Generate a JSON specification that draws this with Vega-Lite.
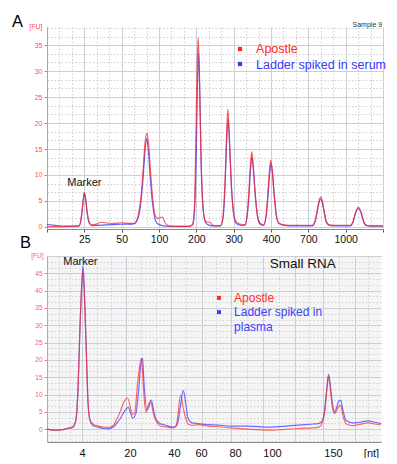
{
  "$schema": "https://vega.github.io/schema/vega-lite/v6.json",
  "padding": {"left": 11, "top": 14, "right": 0, "bottom": 0},
  "spacing": 27,
  "bounds": "flush",
  "config": {
    "view": {"stroke": null},
    "axis": {"labelFont": "Liberation Sans", "titleFont": "Liberation Sans"},
    "text": {"font": "Liberation Sans"}
  },
  "resolve": {"scale": {"color": "independent"}},
  "datasets": {
    "serumLadder": [
      {"series": "Ladder spiked in serum", "pos": 0, "fu": 0.5},
      {"series": "Ladder spiked in serum", "pos": 0.15, "fu": 0.35},
      {"series": "Ladder spiked in serum", "pos": 0.3, "fu": 0.2},
      {"series": "Ladder spiked in serum", "pos": 0.5, "fu": 0.15},
      {"series": "Ladder spiked in serum", "pos": 0.7, "fu": 0.15},
      {"series": "Ladder spiked in serum", "pos": 0.86, "fu": 0.2},
      {"series": "Ladder spiked in serum", "pos": 0.92, "fu": 1.8},
      {"series": "Ladder spiked in serum", "pos": 0.97, "fu": 5.0},
      {"series": "Ladder spiked in serum", "pos": 1.0, "fu": 6.5},
      {"series": "Ladder spiked in serum", "pos": 1.03, "fu": 5.6},
      {"series": "Ladder spiked in serum", "pos": 1.08, "fu": 2.5},
      {"series": "Ladder spiked in serum", "pos": 1.14, "fu": 0.6},
      {"series": "Ladder spiked in serum", "pos": 1.2, "fu": 0.25},
      {"series": "Ladder spiked in serum", "pos": 1.35, "fu": 0.3},
      {"series": "Ladder spiked in serum", "pos": 1.6, "fu": 0.4},
      {"series": "Ladder spiked in serum", "pos": 1.9, "fu": 0.5},
      {"series": "Ladder spiked in serum", "pos": 2.1, "fu": 0.55},
      {"series": "Ladder spiked in serum", "pos": 2.25, "fu": 0.5},
      {"series": "Ladder spiked in serum", "pos": 2.35, "fu": 0.7},
      {"series": "Ladder spiked in serum", "pos": 2.45, "fu": 2.0},
      {"series": "Ladder spiked in serum", "pos": 2.52, "fu": 5.0},
      {"series": "Ladder spiked in serum", "pos": 2.58, "fu": 10},
      {"series": "Ladder spiked in serum", "pos": 2.63, "fu": 15},
      {"series": "Ladder spiked in serum", "pos": 2.67, "fu": 17},
      {"series": "Ladder spiked in serum", "pos": 2.71, "fu": 15.2},
      {"series": "Ladder spiked in serum", "pos": 2.76, "fu": 10},
      {"series": "Ladder spiked in serum", "pos": 2.82, "fu": 5},
      {"series": "Ladder spiked in serum", "pos": 2.88, "fu": 2},
      {"series": "Ladder spiked in serum", "pos": 2.95, "fu": 0.7},
      {"series": "Ladder spiked in serum", "pos": 3.05, "fu": 0.35},
      {"series": "Ladder spiked in serum", "pos": 3.2, "fu": 0.15},
      {"series": "Ladder spiked in serum", "pos": 3.5, "fu": 0.1},
      {"series": "Ladder spiked in serum", "pos": 3.8, "fu": 0.1},
      {"series": "Ladder spiked in serum", "pos": 3.9, "fu": 0.4},
      {"series": "Ladder spiked in serum", "pos": 3.95, "fu": 3},
      {"series": "Ladder spiked in serum", "pos": 4.0, "fu": 15},
      {"series": "Ladder spiked in serum", "pos": 4.03, "fu": 27},
      {"series": "Ladder spiked in serum", "pos": 4.06, "fu": 33.5},
      {"series": "Ladder spiked in serum", "pos": 4.09, "fu": 27},
      {"series": "Ladder spiked in serum", "pos": 4.13, "fu": 12},
      {"series": "Ladder spiked in serum", "pos": 4.18, "fu": 3.5},
      {"series": "Ladder spiked in serum", "pos": 4.25, "fu": 0.8},
      {"series": "Ladder spiked in serum", "pos": 4.35, "fu": 0.3},
      {"series": "Ladder spiked in serum", "pos": 4.5, "fu": 0.2},
      {"series": "Ladder spiked in serum", "pos": 4.65, "fu": 0.2},
      {"series": "Ladder spiked in serum", "pos": 4.72, "fu": 2},
      {"series": "Ladder spiked in serum", "pos": 4.77, "fu": 8},
      {"series": "Ladder spiked in serum", "pos": 4.81, "fu": 16},
      {"series": "Ladder spiked in serum", "pos": 4.85, "fu": 20.8},
      {"series": "Ladder spiked in serum", "pos": 4.89, "fu": 16},
      {"series": "Ladder spiked in serum", "pos": 4.94, "fu": 8},
      {"series": "Ladder spiked in serum", "pos": 5.0, "fu": 2.5},
      {"series": "Ladder spiked in serum", "pos": 5.06, "fu": 0.8},
      {"series": "Ladder spiked in serum", "pos": 5.15, "fu": 0.4},
      {"series": "Ladder spiked in serum", "pos": 5.3, "fu": 0.3},
      {"series": "Ladder spiked in serum", "pos": 5.36, "fu": 2},
      {"series": "Ladder spiked in serum", "pos": 5.41, "fu": 6},
      {"series": "Ladder spiked in serum", "pos": 5.45, "fu": 11},
      {"series": "Ladder spiked in serum", "pos": 5.49, "fu": 13.5},
      {"series": "Ladder spiked in serum", "pos": 5.53, "fu": 11},
      {"series": "Ladder spiked in serum", "pos": 5.58, "fu": 6},
      {"series": "Ladder spiked in serum", "pos": 5.64, "fu": 2},
      {"series": "Ladder spiked in serum", "pos": 5.7, "fu": 0.6},
      {"series": "Ladder spiked in serum", "pos": 5.8, "fu": 0.3},
      {"series": "Ladder spiked in serum", "pos": 5.87, "fu": 2},
      {"series": "Ladder spiked in serum", "pos": 5.92, "fu": 6},
      {"series": "Ladder spiked in serum", "pos": 5.96, "fu": 10},
      {"series": "Ladder spiked in serum", "pos": 6.0, "fu": 12.2},
      {"series": "Ladder spiked in serum", "pos": 6.04, "fu": 10.5},
      {"series": "Ladder spiked in serum", "pos": 6.09, "fu": 6},
      {"series": "Ladder spiked in serum", "pos": 6.15, "fu": 2},
      {"series": "Ladder spiked in serum", "pos": 6.22, "fu": 0.6},
      {"series": "Ladder spiked in serum", "pos": 6.35, "fu": 0.3},
      {"series": "Ladder spiked in serum", "pos": 6.6, "fu": 0.2},
      {"series": "Ladder spiked in serum", "pos": 6.9, "fu": 0.2},
      {"series": "Ladder spiked in serum", "pos": 7.1, "fu": 0.2},
      {"series": "Ladder spiked in serum", "pos": 7.18, "fu": 1},
      {"series": "Ladder spiked in serum", "pos": 7.24, "fu": 3},
      {"series": "Ladder spiked in serum", "pos": 7.29, "fu": 4.8},
      {"series": "Ladder spiked in serum", "pos": 7.33, "fu": 5.4},
      {"series": "Ladder spiked in serum", "pos": 7.37, "fu": 4.8},
      {"series": "Ladder spiked in serum", "pos": 7.42, "fu": 3},
      {"series": "Ladder spiked in serum", "pos": 7.48, "fu": 1},
      {"series": "Ladder spiked in serum", "pos": 7.56, "fu": 0.3},
      {"series": "Ladder spiked in serum", "pos": 7.8, "fu": 0.2},
      {"series": "Ladder spiked in serum", "pos": 8.0, "fu": 0.2},
      {"series": "Ladder spiked in serum", "pos": 8.12, "fu": 0.2},
      {"series": "Ladder spiked in serum", "pos": 8.2, "fu": 1},
      {"series": "Ladder spiked in serum", "pos": 8.26, "fu": 2.5},
      {"series": "Ladder spiked in serum", "pos": 8.34, "fu": 3.6},
      {"series": "Ladder spiked in serum", "pos": 8.42, "fu": 2.5},
      {"series": "Ladder spiked in serum", "pos": 8.48, "fu": 1},
      {"series": "Ladder spiked in serum", "pos": 8.56, "fu": 0.25},
      {"series": "Ladder spiked in serum", "pos": 8.75, "fu": 0.15},
      {"series": "Ladder spiked in serum", "pos": 9.0, "fu": 0.15}
    ],
    "serumApostle": [
      {"series": "Apostle", "pos": 0, "fu": 0.05},
      {"series": "Apostle", "pos": 0.3, "fu": 0.05},
      {"series": "Apostle", "pos": 0.6, "fu": 0.1},
      {"series": "Apostle", "pos": 0.86, "fu": 0.2},
      {"series": "Apostle", "pos": 0.92, "fu": 1.9},
      {"series": "Apostle", "pos": 0.97, "fu": 5.2},
      {"series": "Apostle", "pos": 1.0, "fu": 6.6},
      {"series": "Apostle", "pos": 1.03, "fu": 5.7},
      {"series": "Apostle", "pos": 1.08, "fu": 2.6},
      {"series": "Apostle", "pos": 1.14, "fu": 0.8},
      {"series": "Apostle", "pos": 1.2, "fu": 0.4},
      {"series": "Apostle", "pos": 1.35, "fu": 0.6},
      {"series": "Apostle", "pos": 1.45, "fu": 0.9},
      {"series": "Apostle", "pos": 1.55, "fu": 0.8},
      {"series": "Apostle", "pos": 1.8, "fu": 0.7},
      {"series": "Apostle", "pos": 2.0, "fu": 0.8},
      {"series": "Apostle", "pos": 2.2, "fu": 0.7},
      {"series": "Apostle", "pos": 2.35, "fu": 0.7},
      {"series": "Apostle", "pos": 2.45, "fu": 2.5},
      {"series": "Apostle", "pos": 2.52, "fu": 6},
      {"series": "Apostle", "pos": 2.58, "fu": 11.5},
      {"series": "Apostle", "pos": 2.63, "fu": 16.5},
      {"series": "Apostle", "pos": 2.68, "fu": 18},
      {"series": "Apostle", "pos": 2.72, "fu": 16},
      {"series": "Apostle", "pos": 2.77, "fu": 11},
      {"series": "Apostle", "pos": 2.83, "fu": 5.5},
      {"series": "Apostle", "pos": 2.9, "fu": 2.2},
      {"series": "Apostle", "pos": 2.96, "fu": 1.6},
      {"series": "Apostle", "pos": 3.03, "fu": 1.8},
      {"series": "Apostle", "pos": 3.09, "fu": 1.9},
      {"series": "Apostle", "pos": 3.15, "fu": 1.0},
      {"series": "Apostle", "pos": 3.25, "fu": 0.2},
      {"series": "Apostle", "pos": 3.5, "fu": 0.1},
      {"series": "Apostle", "pos": 3.8, "fu": 0.1},
      {"series": "Apostle", "pos": 3.9, "fu": 0.5},
      {"series": "Apostle", "pos": 3.95, "fu": 4},
      {"series": "Apostle", "pos": 3.99, "fu": 18},
      {"series": "Apostle", "pos": 4.02, "fu": 30},
      {"series": "Apostle", "pos": 4.05, "fu": 36.5},
      {"series": "Apostle", "pos": 4.08, "fu": 30},
      {"series": "Apostle", "pos": 4.12, "fu": 15},
      {"series": "Apostle", "pos": 4.17, "fu": 5},
      {"series": "Apostle", "pos": 4.23, "fu": 1.3},
      {"series": "Apostle", "pos": 4.3, "fu": 0.9},
      {"series": "Apostle", "pos": 4.36, "fu": 0.9},
      {"series": "Apostle", "pos": 4.45, "fu": 0.3},
      {"series": "Apostle", "pos": 4.6, "fu": 0.2},
      {"series": "Apostle", "pos": 4.67, "fu": 0.4},
      {"series": "Apostle", "pos": 4.72, "fu": 2.5},
      {"series": "Apostle", "pos": 4.77, "fu": 9},
      {"series": "Apostle", "pos": 4.81, "fu": 18},
      {"series": "Apostle", "pos": 4.845, "fu": 22.7},
      {"series": "Apostle", "pos": 4.88, "fu": 18},
      {"series": "Apostle", "pos": 4.93, "fu": 9},
      {"series": "Apostle", "pos": 4.99, "fu": 3},
      {"series": "Apostle", "pos": 5.05, "fu": 1.2},
      {"series": "Apostle", "pos": 5.15, "fu": 0.6},
      {"series": "Apostle", "pos": 5.3, "fu": 0.4},
      {"series": "Apostle", "pos": 5.36, "fu": 2.3},
      {"series": "Apostle", "pos": 5.41, "fu": 7},
      {"series": "Apostle", "pos": 5.45, "fu": 12},
      {"series": "Apostle", "pos": 5.485, "fu": 14.5},
      {"series": "Apostle", "pos": 5.52, "fu": 12},
      {"series": "Apostle", "pos": 5.57, "fu": 7},
      {"series": "Apostle", "pos": 5.63, "fu": 2.5},
      {"series": "Apostle", "pos": 5.7, "fu": 0.8},
      {"series": "Apostle", "pos": 5.8, "fu": 0.4},
      {"series": "Apostle", "pos": 5.87, "fu": 2.3},
      {"series": "Apostle", "pos": 5.92, "fu": 7},
      {"series": "Apostle", "pos": 5.96, "fu": 11},
      {"series": "Apostle", "pos": 5.995, "fu": 12.8},
      {"series": "Apostle", "pos": 6.03, "fu": 11},
      {"series": "Apostle", "pos": 6.08, "fu": 6.5},
      {"series": "Apostle", "pos": 6.14, "fu": 2.2},
      {"series": "Apostle", "pos": 6.22, "fu": 0.7},
      {"series": "Apostle", "pos": 6.35, "fu": 0.4},
      {"series": "Apostle", "pos": 6.6, "fu": 0.3},
      {"series": "Apostle", "pos": 6.9, "fu": 0.3},
      {"series": "Apostle", "pos": 7.1, "fu": 0.3},
      {"series": "Apostle", "pos": 7.18, "fu": 1.1},
      {"series": "Apostle", "pos": 7.24, "fu": 3.3},
      {"series": "Apostle", "pos": 7.29, "fu": 5.2},
      {"series": "Apostle", "pos": 7.33, "fu": 5.8},
      {"series": "Apostle", "pos": 7.37, "fu": 5.2},
      {"series": "Apostle", "pos": 7.42, "fu": 3.2},
      {"series": "Apostle", "pos": 7.48, "fu": 1.1},
      {"series": "Apostle", "pos": 7.56, "fu": 0.4},
      {"series": "Apostle", "pos": 7.8, "fu": 0.3},
      {"series": "Apostle", "pos": 8.0, "fu": 0.3},
      {"series": "Apostle", "pos": 8.12, "fu": 0.3},
      {"series": "Apostle", "pos": 8.2, "fu": 1.1},
      {"series": "Apostle", "pos": 8.26, "fu": 2.7},
      {"series": "Apostle", "pos": 8.34, "fu": 3.8},
      {"series": "Apostle", "pos": 8.42, "fu": 2.7},
      {"series": "Apostle", "pos": 8.48, "fu": 1.1},
      {"series": "Apostle", "pos": 8.56, "fu": 0.3},
      {"series": "Apostle", "pos": 8.75, "fu": 0.2},
      {"series": "Apostle", "pos": 9.0, "fu": 0.2}
    ],
    "plasmaLadder": [
      {"series": "Ladder spiked in plasma", "pos": 0, "fu": 0.1},
      {"series": "Ladder spiked in plasma", "pos": 1.8, "fu": -0.3},
      {"series": "Ladder spiked in plasma", "pos": 3.9, "fu": -0.2},
      {"series": "Ladder spiked in plasma", "pos": 6.3, "fu": 0.3},
      {"series": "Ladder spiked in plasma", "pos": 7.8, "fu": 0.7},
      {"series": "Ladder spiked in plasma", "pos": 8.7, "fu": 3},
      {"series": "Ladder spiked in plasma", "pos": 9.3, "fu": 12},
      {"series": "Ladder spiked in plasma", "pos": 9.9, "fu": 30},
      {"series": "Ladder spiked in plasma", "pos": 10.5, "fu": 43},
      {"series": "Ladder spiked in plasma", "pos": 10.8, "fu": 47},
      {"series": "Ladder spiked in plasma", "pos": 11.1, "fu": 42},
      {"series": "Ladder spiked in plasma", "pos": 11.7, "fu": 25},
      {"series": "Ladder spiked in plasma", "pos": 12.3, "fu": 8},
      {"series": "Ladder spiked in plasma", "pos": 12.9, "fu": 2.5},
      {"series": "Ladder spiked in plasma", "pos": 13.8, "fu": 1.0},
      {"series": "Ladder spiked in plasma", "pos": 15.3, "fu": 0.6},
      {"series": "Ladder spiked in plasma", "pos": 16.8, "fu": 0.2},
      {"series": "Ladder spiked in plasma", "pos": 18.3, "fu": 0.1},
      {"series": "Ladder spiked in plasma", "pos": 19.8, "fu": 0.6},
      {"series": "Ladder spiked in plasma", "pos": 20.7, "fu": 1.5},
      {"series": "Ladder spiked in plasma", "pos": 21.9, "fu": 3},
      {"series": "Ladder spiked in plasma", "pos": 23.1, "fu": 5},
      {"series": "Ladder spiked in plasma", "pos": 24.3, "fu": 6.3},
      {"series": "Ladder spiked in plasma", "pos": 25.7, "fu": 3.2},
      {"series": "Ladder spiked in plasma", "pos": 26.6, "fu": 4.5},
      {"series": "Ladder spiked in plasma", "pos": 27.5, "fu": 12},
      {"series": "Ladder spiked in plasma", "pos": 28.0, "fu": 18},
      {"series": "Ladder spiked in plasma", "pos": 28.6, "fu": 20.5},
      {"series": "Ladder spiked in plasma", "pos": 29.0, "fu": 14},
      {"series": "Ladder spiked in plasma", "pos": 29.9, "fu": 5.5},
      {"series": "Ladder spiked in plasma", "pos": 30.5, "fu": 6.5},
      {"series": "Ladder spiked in plasma", "pos": 31.2, "fu": 8.4},
      {"series": "Ladder spiked in plasma", "pos": 32.0, "fu": 5},
      {"series": "Ladder spiked in plasma", "pos": 32.6, "fu": 3},
      {"series": "Ladder spiked in plasma", "pos": 33.8, "fu": 1.6},
      {"series": "Ladder spiked in plasma", "pos": 35.3, "fu": 1.2},
      {"series": "Ladder spiked in plasma", "pos": 37.7, "fu": 0.6},
      {"series": "Ladder spiked in plasma", "pos": 38.6, "fu": 0.9},
      {"series": "Ladder spiked in plasma", "pos": 39.2, "fu": 2},
      {"series": "Ladder spiked in plasma", "pos": 40.0, "fu": 7},
      {"series": "Ladder spiked in plasma", "pos": 40.8, "fu": 11.2},
      {"series": "Ladder spiked in plasma", "pos": 41.6, "fu": 7},
      {"series": "Ladder spiked in plasma", "pos": 42.2, "fu": 3.2},
      {"series": "Ladder spiked in plasma", "pos": 43.4, "fu": 1.8},
      {"series": "Ladder spiked in plasma", "pos": 45.2, "fu": 1.6},
      {"series": "Ladder spiked in plasma", "pos": 48.2, "fu": 1.3},
      {"series": "Ladder spiked in plasma", "pos": 51.2, "fu": 1.2},
      {"series": "Ladder spiked in plasma", "pos": 55.1, "fu": 0.9},
      {"series": "Ladder spiked in plasma", "pos": 60.2, "fu": 0.9},
      {"series": "Ladder spiked in plasma", "pos": 66.2, "fu": 0.6},
      {"series": "Ladder spiked in plasma", "pos": 70.7, "fu": 0.8},
      {"series": "Ladder spiked in plasma", "pos": 75.1, "fu": 1.2},
      {"series": "Ladder spiked in plasma", "pos": 79.6, "fu": 1.5},
      {"series": "Ladder spiked in plasma", "pos": 81.1, "fu": 1.6},
      {"series": "Ladder spiked in plasma", "pos": 82.0, "fu": 2.0},
      {"series": "Ladder spiked in plasma", "pos": 82.6, "fu": 2.8},
      {"series": "Ladder spiked in plasma", "pos": 83.2, "fu": 6},
      {"series": "Ladder spiked in plasma", "pos": 83.8, "fu": 12},
      {"series": "Ladder spiked in plasma", "pos": 84.3, "fu": 15.8},
      {"series": "Ladder spiked in plasma", "pos": 84.9, "fu": 12},
      {"series": "Ladder spiked in plasma", "pos": 85.5, "fu": 7},
      {"series": "Ladder spiked in plasma", "pos": 86.1, "fu": 5.0},
      {"series": "Ladder spiked in plasma", "pos": 86.8, "fu": 6.5},
      {"series": "Ladder spiked in plasma", "pos": 87.3, "fu": 8.0},
      {"series": "Ladder spiked in plasma", "pos": 87.9, "fu": 8.4},
      {"series": "Ladder spiked in plasma", "pos": 88.6, "fu": 5.5},
      {"series": "Ladder spiked in plasma", "pos": 89.5, "fu": 2.6},
      {"series": "Ladder spiked in plasma", "pos": 91.6, "fu": 1.8},
      {"series": "Ladder spiked in plasma", "pos": 93.7, "fu": 2.0},
      {"series": "Ladder spiked in plasma", "pos": 96.1, "fu": 2.4},
      {"series": "Ladder spiked in plasma", "pos": 98.2, "fu": 2.0},
      {"series": "Ladder spiked in plasma", "pos": 100, "fu": 1.6}
    ],
    "plasmaApostle": [
      {"series": "Apostle", "pos": 0, "fu": 0.0},
      {"series": "Apostle", "pos": 1.8, "fu": -0.3},
      {"series": "Apostle", "pos": 3.9, "fu": -0.3},
      {"series": "Apostle", "pos": 6.3, "fu": 0.2},
      {"series": "Apostle", "pos": 7.8, "fu": 0.6},
      {"series": "Apostle", "pos": 8.7, "fu": 3},
      {"series": "Apostle", "pos": 9.3, "fu": 12},
      {"series": "Apostle", "pos": 9.9, "fu": 30},
      {"series": "Apostle", "pos": 10.4, "fu": 42},
      {"series": "Apostle", "pos": 10.7, "fu": 45.5},
      {"series": "Apostle", "pos": 11.1, "fu": 41},
      {"series": "Apostle", "pos": 11.7, "fu": 24},
      {"series": "Apostle", "pos": 12.3, "fu": 7},
      {"series": "Apostle", "pos": 12.9, "fu": 2.5},
      {"series": "Apostle", "pos": 13.8, "fu": 1.5},
      {"series": "Apostle", "pos": 15.3, "fu": 0.9},
      {"series": "Apostle", "pos": 16.8, "fu": 0.6},
      {"series": "Apostle", "pos": 18.3, "fu": 0.5},
      {"series": "Apostle", "pos": 19.8, "fu": 1.0},
      {"series": "Apostle", "pos": 20.7, "fu": 2.5},
      {"series": "Apostle", "pos": 21.9, "fu": 5},
      {"series": "Apostle", "pos": 23.1, "fu": 8},
      {"series": "Apostle", "pos": 24.1, "fu": 9.0},
      {"series": "Apostle", "pos": 25.7, "fu": 4.2},
      {"series": "Apostle", "pos": 26.3, "fu": 5},
      {"series": "Apostle", "pos": 27.2, "fu": 14},
      {"series": "Apostle", "pos": 28.3, "fu": 20.5},
      {"series": "Apostle", "pos": 28.8, "fu": 13},
      {"series": "Apostle", "pos": 29.6, "fu": 4.8},
      {"series": "Apostle", "pos": 30.5, "fu": 7.5},
      {"series": "Apostle", "pos": 31.0, "fu": 7.9},
      {"series": "Apostle", "pos": 32.0, "fu": 4},
      {"series": "Apostle", "pos": 32.6, "fu": 2.5},
      {"series": "Apostle", "pos": 33.8, "fu": 1.0},
      {"series": "Apostle", "pos": 35.3, "fu": 0.7},
      {"series": "Apostle", "pos": 37.7, "fu": 0.4},
      {"series": "Apostle", "pos": 38.6, "fu": 0.8},
      {"series": "Apostle", "pos": 39.2, "fu": 4},
      {"series": "Apostle", "pos": 40.0, "fu": 9.8},
      {"series": "Apostle", "pos": 40.8, "fu": 6},
      {"series": "Apostle", "pos": 41.6, "fu": 3},
      {"series": "Apostle", "pos": 42.2, "fu": 1.5},
      {"series": "Apostle", "pos": 43.4, "fu": 1.1},
      {"series": "Apostle", "pos": 45.2, "fu": 1.3},
      {"series": "Apostle", "pos": 48.2, "fu": 0.9},
      {"series": "Apostle", "pos": 51.2, "fu": 0.7},
      {"series": "Apostle", "pos": 55.1, "fu": 0.4},
      {"series": "Apostle", "pos": 60.2, "fu": 0.0},
      {"series": "Apostle", "pos": 66.2, "fu": -0.3},
      {"series": "Apostle", "pos": 70.7, "fu": -0.1},
      {"series": "Apostle", "pos": 75.1, "fu": 0.2},
      {"series": "Apostle", "pos": 79.6, "fu": 0.4},
      {"series": "Apostle", "pos": 81.1, "fu": 0.5},
      {"series": "Apostle", "pos": 82.0, "fu": 1.0},
      {"series": "Apostle", "pos": 82.6, "fu": 2.5},
      {"series": "Apostle", "pos": 83.2, "fu": 5.5},
      {"series": "Apostle", "pos": 83.8, "fu": 11.5},
      {"series": "Apostle", "pos": 84.3, "fu": 15.3},
      {"series": "Apostle", "pos": 84.9, "fu": 11},
      {"series": "Apostle", "pos": 85.5, "fu": 6},
      {"series": "Apostle", "pos": 86.1, "fu": 4.5},
      {"series": "Apostle", "pos": 86.8, "fu": 5.5},
      {"series": "Apostle", "pos": 87.3, "fu": 6.5},
      {"series": "Apostle", "pos": 87.9, "fu": 6.9},
      {"series": "Apostle", "pos": 88.6, "fu": 4},
      {"series": "Apostle", "pos": 89.5, "fu": 1.6},
      {"series": "Apostle", "pos": 91.6, "fu": 1.0},
      {"series": "Apostle", "pos": 93.7, "fu": 1.4},
      {"series": "Apostle", "pos": 96.1, "fu": 1.8},
      {"series": "Apostle", "pos": 98.2, "fu": 1.5},
      {"series": "Apostle", "pos": 100, "fu": 1.2}
    ]
  },
  "vconcat": [
    {
      "width": 336,
      "height": 202,
      "encoding": {
        "x": {
          "field": "pos", "type": "quantitative",
          "scale": {"domain": [0, 9], "nice": false, "zero": false},
          "axis": {
            "title": null,
            "values": [0,0.3333,0.6667,1,1.3333,1.6667,2,2.3333,2.6667,3,3.3333,3.6667,4,4.3333,4.6667,5,5.3333,5.6667,6,6.3333,6.6667,7,7.3333,7.6667,8,8.3333,8.6667,9],
            "labelExpr": "datum.value==1?'25':datum.value==2?'50':datum.value==3?'100':datum.value==4?'200':datum.value==5?'300':datum.value==6?'400':datum.value==7?'700':datum.value==8?'1000':''",
            "labelOverlap": false,
            "labelFlush": false,
            "labelFontSize": 10.5,
            "labelColor": "#111111",
            "labelPadding": 2,
            "domainColor": "#8a8a8a",
            "tickColor": "#555555",
            "tickSize": {"condition": {"test": "abs(datum.value - round(datum.value)) < 0.01", "value": 3}, "value": 0},
            "grid": true,
            "gridColor": {"condition": {"test": "abs(datum.value - round(datum.value)) < 0.01", "value": "#c9cfdb"}, "value": "#cfcfcf"},
            "gridDash": {"condition": {"test": "abs(datum.value - round(datum.value)) < 0.01", "value": []}, "value": [1.5, 2]}
          }
        },
        "y": {
          "field": "fu", "type": "quantitative",
          "scale": {"domain": [-0.4, 38.5], "nice": false, "zero": false},
          "axis": {
            "values": [0,1.6667,3.3333,5,6.6667,8.3333,10,11.6667,13.3333,15,16.6667,18.3333,20,21.6667,23.3333,25,26.6667,28.3333,30,31.6667,33.3333,35,36.6667,38.3333],
            "labelExpr": "abs(datum.value/5 - round(datum.value/5)) < 0.01 ? format(datum.value, 'd') : ''",
            "labelOverlap": false,
            "labelFontSize": 7,
            "labelColor": "#ff4d4d",
            "labelPadding": 2,
            "domainColor": "#ff8080",
            "tickColor": "#ff6b6b",
            "tickSize": {"condition": {"test": "abs(datum.value/5 - round(datum.value/5)) < 0.01", "value": 3}, "value": 0},
            "grid": true,
            "gridColor": {"condition": {"test": "abs(datum.value/5 - round(datum.value/5)) < 0.01", "value": "#c9cfdb"}, "value": "#cfcfcf"},
            "gridDash": {"condition": {"test": "abs(datum.value/5 - round(datum.value/5)) < 0.01", "value": []}, "value": [1.5, 2]},
            "title": "[FU]",
            "titleAngle": 0,
            "titleAlign": "right",
            "titleBaseline": "middle",
            "titleX": -5,
            "titleY": -1,
            "titleColor": "#ff4d4d",
            "titleFontSize": 7,
            "titleFontWeight": "normal"
          }
        },
        "color": {
          "field": "series", "type": "nominal", "legend": null,
          "scale": {"domain": ["Apostle", "Ladder spiked in serum"], "range": ["#ff2626", "#3a3aff"]}
        }
      },
      "layer": [
        {
          "data": {"name": "serumLadder"},
          "mark": {"type": "line", "interpolate": "monotone", "strokeWidth": 1.2, "opacity": 0.8}
        },
        {
          "data": {"name": "serumApostle"},
          "mark": {"type": "line", "interpolate": "monotone", "strokeWidth": 1.2, "opacity": 0.75}
        },
        {
          "data": {"values": [
            {"series": "Apostle", "pos": 5.17, "fu": 34.26},
            {"series": "Ladder spiked in serum", "pos": 5.17, "fu": 31.37}
          ]},
          "mark": {"type": "square", "size": 18, "opacity": 1, "filled": true}
        },
        {
          "data": {"values": [
            {"series": "Apostle", "label": "Apostle", "pos": 5.6, "fu": 33.4},
            {"series": "Ladder spiked in serum", "label": "Ladder spiked in serum", "pos": 5.6, "fu": 30.5}
          ]},
          "mark": {"type": "text", "fontSize": 12.5, "align": "left", "baseline": "alphabetic"},
          "encoding": {"text": {"field": "label"}}
        },
        {
          "data": {"values": [{"label": "Marker", "pos": 1.0, "fu": 8.5}]},
          "mark": {"type": "text", "fontSize": 11, "align": "center", "baseline": "middle", "color": "#111111"},
          "encoding": {"text": {"field": "label"}, "color": {"value": "#111111"}}
        },
        {
          "data": {"values": [{"label": "Sample 9", "pos": 8.58, "fu": 38.9}]},
          "mark": {"type": "text", "fontSize": 7, "align": "center", "baseline": "middle"},
          "encoding": {"text": {"field": "label"}, "color": {"value": "#333333"}}
        },
        {
          "data": {"values": [{"label": "A", "pos": -0.94, "fu": 38.5}]},
          "mark": {"type": "text", "fontSize": 16.5, "align": "left", "baseline": "alphabetic"},
          "encoding": {"text": {"field": "label"}, "color": {"value": "#000000"}}
        }
      ]
    },
    {
      "width": 334,
      "height": 186,
      "view": {"fill": "#f5f5f5", "stroke": null},
      "encoding": {
        "x": {
          "field": "pos", "type": "quantitative",
          "scale": {"domain": [0, 100], "nice": false, "zero": false},
          "axis": {
            "title": null,
            "values": [3.59,6.89,10.48,14.97,19.16,23.65,24.85,28.14,32.63,37.13,38.02,41.62,46.11,46.41,50.6,55.09,56.29,59.88,64.67,67.37,69.46,74.25,78.44,82.63,85.63,87.42,92.22,96.11,97.01],
            "labelExpr": "datum.value==10.48?'4':datum.value==24.85?'20':datum.value==38.02?'40':datum.value==46.11?'60':datum.value==56.29?'80':datum.value==67.37?'100':datum.value==85.63?'150':datum.value==97.01?'[nt]':''",
            "labelOverlap": false,
            "labelFlush": false,
            "labelFontSize": 11,
            "labelColor": "#111111",
            "labelPadding": 5,
            "tickSize": 0,
            "domainColor": "#8a8a8a",
            "grid": true,
            "gridOpacity": {"condition": {"test": "indexof([24.85,38.02,46.11,56.29,67.37,85.63,97.01], datum.value) >= 0", "value": 0}, "value": 1},
            "gridColor": {"condition": {"test": "indexof([10.48,23.65,37.13,46.41,55.09,64.67,74.25,82.63,92.22], datum.value) >= 0", "value": "#cbd0d8"}, "value": "#d2d2d2"},
            "gridDash": {"condition": {"test": "indexof([10.48,23.65,37.13,46.41,55.09,64.67,74.25,82.63,92.22], datum.value) >= 0", "value": []}, "value": [1.5, 2]}
          }
        },
        "y": {
          "field": "fu", "type": "quantitative",
          "scale": {"domain": [-3.7, 50], "nice": false, "zero": false},
          "axis": {
            "values": [-3.3333,-1.6667,0,1.6667,3.3333,5,6.6667,8.3333,10,11.6667,13.3333,15,16.6667,18.3333,20,21.6667,23.3333,25,26.6667,28.3333,30,31.6667,33.3333,35,36.6667,38.3333,40,41.6667,43.3333,45,46.6667,48.3333,50],
            "labelExpr": "abs(datum.value/5 - round(datum.value/5)) < 0.01 && datum.value >= 0 && datum.value <= 45 ? format(datum.value, 'd') : ''",
            "labelOverlap": false,
            "labelFontSize": 6.5,
            "labelColor": "#ff5a5a",
            "labelPadding": 2,
            "domainColor": "#ff8c8c",
            "tickColor": "#ff7a7a",
            "tickSize": {"condition": {"test": "abs(datum.value/5 - round(datum.value/5)) < 0.01 && datum.value >= 0 && datum.value <= 45", "value": 3}, "value": 0},
            "grid": true,
            "gridColor": {"condition": {"test": "abs(datum.value/5 - round(datum.value/5)) < 0.01", "value": "#cbd0d8"}, "value": "#d2d2d2"},
            "gridDash": {"condition": {"test": "abs(datum.value/5 - round(datum.value/5)) < 0.01", "value": []}, "value": [1.5, 2]},
            "title": "[FU]",
            "titleAngle": 0,
            "titleAlign": "right",
            "titleBaseline": "middle",
            "titleX": -4,
            "titleY": -1,
            "titleColor": "#ff5a5a",
            "titleFontSize": 6.5,
            "titleFontWeight": "normal"
          }
        },
        "color": {
          "field": "series", "type": "nominal", "legend": null,
          "scale": {"domain": ["Apostle", "Ladder spiked in plasma"], "range": ["#ff2b2b", "#4040ff"]}
        }
      },
      "layer": [
        {
          "data": {"name": "plasmaLadder"},
          "mark": {"type": "line", "interpolate": "monotone", "strokeWidth": 1.2, "opacity": 0.75}
        },
        {
          "data": {"name": "plasmaApostle"},
          "mark": {"type": "line", "interpolate": "monotone", "strokeWidth": 1.2, "opacity": 0.7}
        },
        {
          "data": {"values": [
            {"series": "Apostle", "pos": 51.5, "fu": 37.9},
            {"series": "Ladder spiked in plasma", "pos": 51.5, "fu": 33.8}
          ]},
          "mark": {"type": "square", "size": 16, "opacity": 1, "filled": true}
        },
        {
          "data": {"values": [
            {"series": "Apostle", "label": "Apostle", "pos": 56.0, "fu": 36.7},
            {"series": "Ladder spiked in plasma", "label": "Ladder spiked in|plasma", "pos": 56.0, "fu": 32.7}
          ]},
          "mark": {"type": "text", "fontSize": 12, "align": "left", "baseline": "alphabetic", "lineBreak": "|", "lineHeight": 15},
          "encoding": {"text": {"field": "label"}}
        },
        {
          "data": {"values": [{"label": "Marker", "pos": 10.0, "fu": 48.3}]},
          "mark": {"type": "text", "fontSize": 11, "align": "center", "baseline": "middle"},
          "encoding": {"text": {"field": "label"}, "color": {"value": "#111111"}}
        },
        {
          "data": {"values": [{"label": "Small RNA", "pos": 76.6, "fu": 47.7}]},
          "mark": {"type": "text", "fontSize": 13.5, "align": "center", "baseline": "middle"},
          "encoding": {"text": {"field": "label"}, "color": {"value": "#111111"}}
        },
        {
          "data": {"values": [{"label": "B", "pos": -8.1, "fu": 52.2}]},
          "mark": {"type": "text", "fontSize": 16.5, "align": "left", "baseline": "alphabetic"},
          "encoding": {"text": {"field": "label"}, "color": {"value": "#000000"}}
        }
      ]
    }
  ]
}
